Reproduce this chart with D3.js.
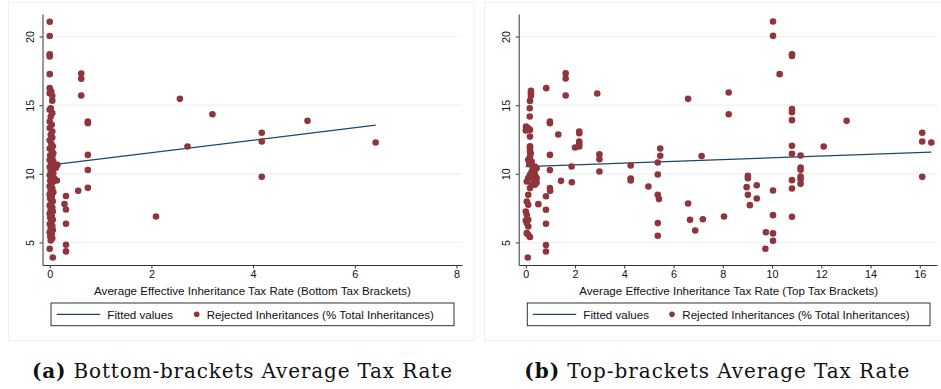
<!DOCTYPE html>
<html><head><meta charset="utf-8">
<script src="https://cdn.jsdelivr.net/npm/d3@7"></script>
<style>
body{margin:0;background:#fff;}
svg{display:block;font-family:"Liberation Sans",Arial,sans-serif;}
</style></head>
<body><svg id="c" width="941" height="389"></svg>
<script>
// ---------- data ----------
const yTicks = [5, 10, 15, 20];
const xTicksBottom = [0, 2, 4, 6, 8];
const xTicksTop = [0, 2, 4, 6, 8, 10, 12, 14, 16];
const xTitleBottom = "Average Effective Inheritance Tax Rate (Bottom Tax Brackets)";
const xTitleTop = "Average Effective Inheritance Tax Rate (Top Tax Brackets)";
const legendLabels = ["Fitted values", "Rejected Inheritances (% Total Inheritances)"];
const captionBottom = ["(a)", " Bottom-brackets Average Tax Rate"];
const captionTop = ["(b)", " Top-brackets Average Tax Rate"];

// Panel (a): [tax rate bottom brackets, rejected %]
const rejectedBottom = [
 [0.00,21.08],[0.00,20.04],[0.00,18.71],[0.00,18.55],[0.00,17.26],
 [0.00,16.24],[0.03,15.99],[0.00,15.87],[0.05,15.68],[0.05,15.33],[0.02,14.78],[0.00,14.66],
 [0.05,14.42],[0.02,14.17],[0.00,13.81],[0.04,13.57],[0.00,13.33],[0.05,13.08],[0.02,12.84],
 [0.05,12.64],[0.00,12.45],[0.03,12.20],[0.06,12.00],[0.00,11.85],[0.04,11.70],[0.07,11.50],
 [0.01,11.35],[0.05,11.20],[0.00,11.00],[0.07,10.90],[0.03,10.75],[0.15,10.65],[0.08,10.60],
 [0.00,10.50],[0.12,10.45],[0.05,10.35],[0.02,10.20],[0.07,10.05],[0.00,9.90],[0.04,9.75],
 [0.09,9.65],[0.14,9.51],[0.01,9.50],[0.06,9.40],[0.03,9.25],[0.00,9.10],[0.05,8.95],
 [0.02,8.80],[0.07,8.65],[0.00,8.50],[0.04,8.35],[0.01,8.20],[0.06,8.00],[0.03,7.85],
 [0.00,7.70],[0.05,7.55],[0.02,7.40],[0.06,7.25],[0.00,7.10],[0.04,6.95],[0.01,6.80],
 [0.06,6.65],[0.03,6.50],[0.00,6.35],[0.05,6.20],[0.02,6.05],[0.06,5.90],[0.00,5.75],
 [0.04,5.60],[0.01,5.45],[0.05,5.30],[0.02,5.15],[0.00,4.54],[0.06,3.91],
 [0.62,17.30],[0.62,16.92],[0.62,15.70],[0.75,13.80],[0.75,13.69],[0.75,11.38],[0.75,10.28],
 [0.75,8.98],[0.56,8.77],[0.32,8.38],[0.29,7.80],[0.32,7.40],[0.32,6.36],[0.32,4.84],[0.32,4.35],
 [2.09,6.89],[2.56,15.46],[2.71,11.99],[3.20,14.34],[4.17,12.99],[4.17,12.35],[4.17,9.78],
 [5.07,13.86],[6.41,12.28]
];
const fitBottomX = [0.00, 6.41];
const fitBottomY = [10.64, 13.54];

// Panel (b): [tax rate top brackets, rejected %]
const rejectedTop = [
 [0.21,16.04],[0.21,15.87],[0.21,15.68],[0.17,15.31],[0.16,14.78],[0.16,14.17],[0.01,13.44],
 [0.10,13.32],[0.17,13.20],[0.00,13.15],[0.17,12.71],[0.17,12.00],[0.17,11.87],[0.17,11.62],
 [0.20,11.50],[0.17,11.26],[0.10,11.02],[0.24,10.90],[0.14,10.70],[0.37,10.53],[0.30,10.41],
 [0.44,10.41],[0.35,10.20],[0.24,10.17],[0.27,10.00],[0.37,9.93],[0.17,9.93],[0.10,9.69],
 [0.31,9.60],[0.44,9.69],[0.04,9.44],[0.44,9.35],[0.24,9.20],[0.37,9.20],[0.17,8.96],
 [0.10,8.47],[0.04,7.98],[0.10,7.74],[0.00,7.26],[0.04,7.02],[0.10,6.65],[0.00,6.60],
 [0.04,6.41],[0.10,6.16],[0.04,5.68],[0.10,5.56],[0.17,5.40],[0.08,3.91],
 [0.83,16.24],[0.98,13.81],[0.98,13.69],[1.32,12.86],[0.98,11.38],[0.98,10.27],[0.98,8.96],
 [0.99,8.76],[0.82,8.37],[0.82,7.38],[0.82,6.36],[0.82,4.81],[0.82,4.34],[0.51,7.79],
 [1.43,9.49],[1.62,17.33],[1.62,16.94],[1.62,15.70],[1.86,10.53],[1.87,9.39],[2.00,11.92],
 [2.17,13.08],[2.17,12.96],[2.17,12.35],[2.17,12.16],[2.17,11.99],[2.90,15.85],[2.99,11.43],
 [2.99,11.07],[2.99,10.17],[4.26,10.61],[4.26,9.66],[4.26,9.51],[4.98,9.08],[5.46,11.84],
 [5.46,11.31],[5.36,10.83],[5.36,9.95],[5.36,8.47],[5.41,8.16],[5.36,6.41],[5.36,5.49],
 [6.59,15.46],[6.59,7.84],[6.67,6.65],[6.88,5.87],[7.14,11.29],[7.19,6.69],[8.05,6.89],
 [8.24,15.92],[8.24,14.34],[9.02,9.85],[9.02,9.68],[8.97,9.03],[9.02,8.47],[9.10,7.72],
 [9.38,9.17],[9.38,8.20],[9.75,5.75],[9.73,4.54],[10.04,21.09],[10.04,20.05],[10.31,17.26],
 [10.04,8.79],[10.04,6.99],[10.04,5.66],[10.04,5.12],[10.81,18.71],[10.81,18.59],[10.81,14.71],
 [10.81,14.49],[10.81,13.91],[10.81,12.04],[10.81,11.46],[10.81,9.54],[10.81,8.93],[10.81,6.87],
 [11.16,11.33],[11.16,10.46],[11.16,10.29],[11.16,9.81],[11.16,9.61],[11.16,9.27],[12.10,11.99],
 [13.03,13.86],[16.10,12.99],[16.10,12.35],[16.47,12.28],[16.10,9.78]
];
const fitTopX = [0.00, 16.47];
const fitTopY = [10.53, 11.58];

// ---------- styling ----------
const DOT = "#90353b", LINE = "#1a476f", GRID = "#eaf2f3", AXIS = "#333333";
const svg = d3.select("#c");

function panel(o) {
  const g = svg.append("g");
  g.append("rect").attr("x", o.frame[0]).attr("y", o.frame[1])
    .attr("width", o.frame[2]).attr("height", o.frame[3])
    .attr("fill", "#fff").attr("stroke", GRID).attr("stroke-width", 1);

  const x = d3.scaleLinear().domain(o.xDomain).range([o.left, o.right]);
  const y = d3.scaleLinear().domain([3.36, 21.64]).range([265, 14]);

  g.append("g").selectAll("line").data(yTicks).join("line")
    .attr("x1", o.left).attr("x2", o.right)
    .attr("y1", d => y(d)).attr("y2", d => y(d))
    .attr("stroke", GRID).attr("stroke-width", 1.2);

  const ya = g.append("g").attr("transform", `translate(${o.left},0)`)
    .call(d3.axisLeft(y).tickValues(yTicks).tickSize(3).tickPadding(9).tickSizeOuter(0));
  ya.attr("font-family", null);
  ya.select(".domain").attr("stroke", AXIS);
  ya.selectAll(".tick line").attr("stroke", AXIS);
  ya.selectAll(".tick text").attr("font-size", 10.8).attr("fill", "#111")
    .attr("text-anchor", "middle").attr("dy", 0)
    .attr("transform", "translate(-9,0) rotate(-90)")
    .attr("x", 0).attr("y", 0);

  const xa = g.append("g").attr("transform", `translate(0,265)`)
    .call(d3.axisBottom(x).tickValues(o.xTicks).tickSize(3.5).tickPadding(2).tickSizeOuter(0));
  xa.attr("font-family", null);
  xa.select(".domain").attr("stroke", AXIS);
  xa.selectAll(".tick line").attr("stroke", AXIS);
  xa.selectAll(".tick text").attr("font-size", 10.8).attr("fill", "#111");

  g.append("text").attr("x", o.titleX).attr("y", 295).attr("text-anchor", "middle")
    .attr("font-size", 11.6).attr("fill", "#111").text(o.title);

  g.append("path").datum(o.fitX.map((v, i) => [v, o.fitY[i]]))
    .attr("d", d3.line().x(d => x(d[0])).y(d => y(d[1])))
    .attr("stroke", LINE).attr("stroke-width", 1.3).attr("fill", "none");

  g.append("g").selectAll("circle").data(o.pts).join("circle")
    .attr("cx", d => x(d[0])).attr("cy", d => y(d[1])).attr("r", 3.3)
    .attr("fill", DOT);

  const L = o.legend;
  g.append("rect").attr("x", L.x).attr("y", 303).attr("width", L.w).attr("height", 22.7)
    .attr("fill", "#fff").attr("stroke", AXIS).attr("stroke-width", 1);
  g.append("line").attr("x1", L.lineX).attr("x2", L.lineX + 43.5).attr("y1", 314.3).attr("y2", 314.3)
    .attr("stroke", LINE).attr("stroke-width", 1.3);
  g.append("text").attr("x", L.t1).attr("y", 318.5).attr("font-size", 11.6).attr("fill", "#111").text(legendLabels[0]);
  g.append("circle").attr("cx", L.dot).attr("cy", 314.3).attr("r", 2.8).attr("fill", DOT);
  g.append("text").attr("x", L.t2).attr("y", 318.5).attr("font-size", 11.6).attr("fill", "#111").text(legendLabels[1]);

  const cap = svg.append("text").attr("x", o.capX).attr("y", 377.5).attr("text-anchor", "middle")
    .attr("font-family", "DejaVu Serif, Liberation Serif, serif").attr("font-size", 20)
    .attr("fill", "#111").attr("textLength", o.capW).attr("lengthAdjust", "spacing");
  cap.append("tspan").attr("font-weight", "bold").text(o.caption[0]);
  cap.append("tspan").text(o.caption[1]);
}

panel({
  frame: [8.5, 2.5, 465.5, 338], left: 42.5, right: 462, xDomain: [-0.142, 8.108],
  xTicks: xTicksBottom, title: xTitleBottom, titleX: 252.5, pts: rejectedBottom,
  fitX: fitBottomX, fitY: fitBottomY,
  legend: {x: 51, w: 403, lineX: 56.7, t1: 107.3, dot: 196.7, t2: 206.7},
  caption: captionBottom, capX: 242, capW: 420
});
panel({
  frame: [484.7, 2.5, 470, 338], left: 518.7, right: 937, xDomain: [-0.288, 16.70],
  xTicks: xTicksTop, title: xTitleTop, titleX: 728.7, pts: rejectedTop,
  fitX: fitTopX, fitY: fitTopY,
  legend: {x: 527.3, w: 402.7, lineX: 532.7, t1: 583.3, dot: 672, t2: 682.3},
  caption: captionTop, capX: 716.8, capW: 385
});
</script></body></html>
